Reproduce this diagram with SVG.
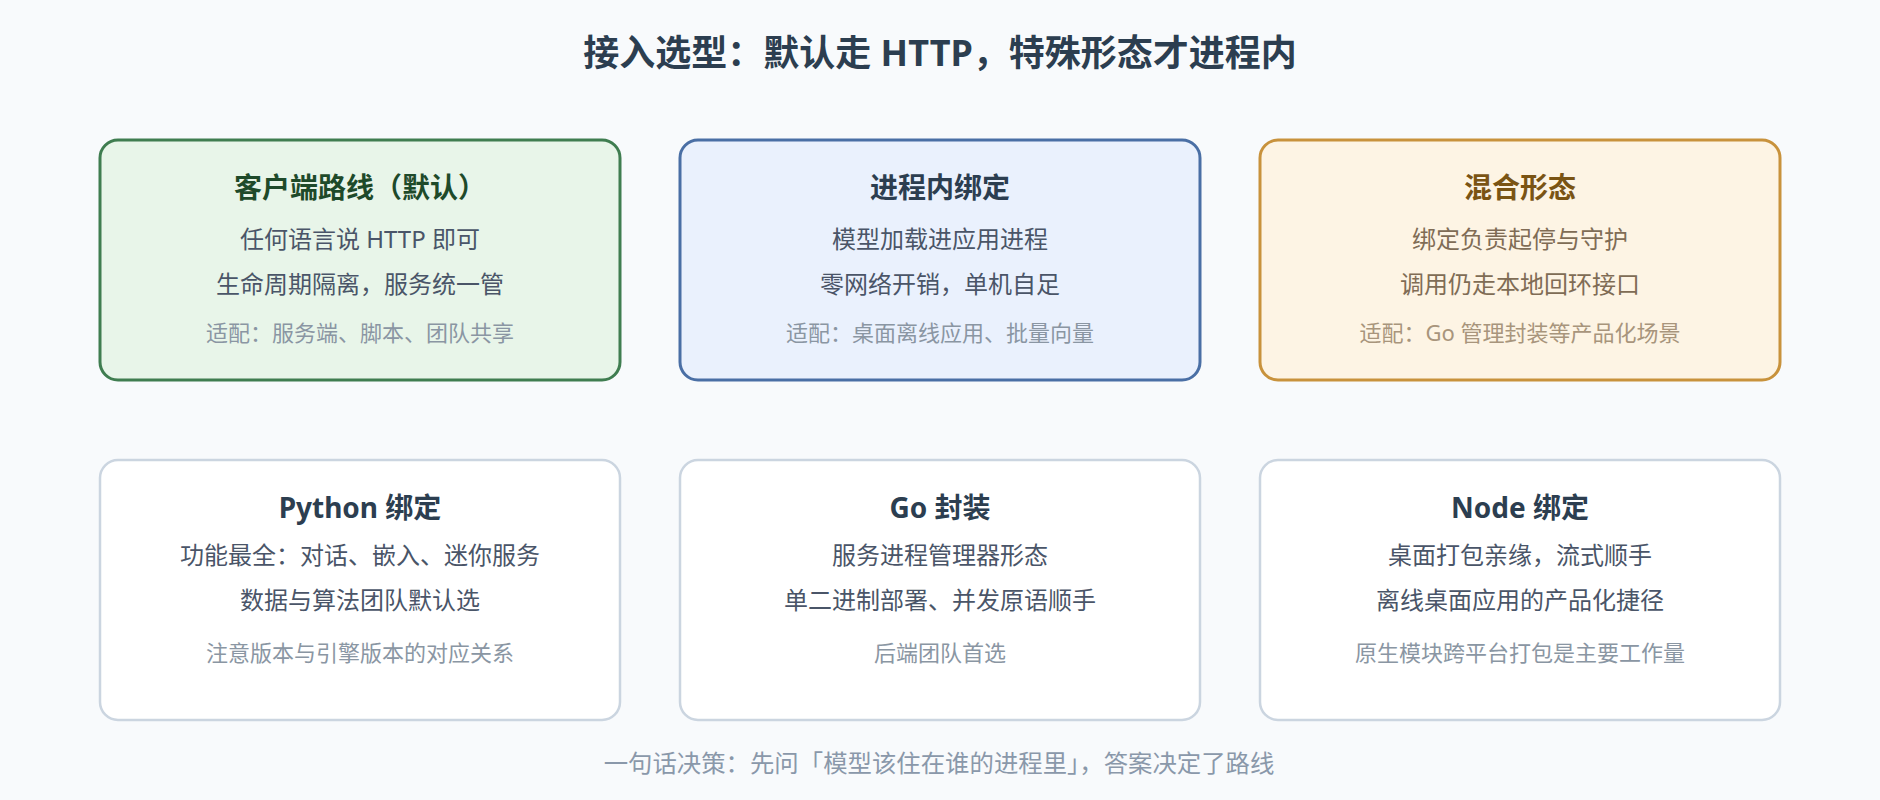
<svg xmlns="http://www.w3.org/2000/svg" width="1880" height="800" viewBox="0 0 1880 800">
<style>
text{font-family:"Noto Sans","Noto Sans CJK SC",sans-serif;text-anchor:middle}
.h{font-size:36px;font-weight:700;fill:#2c3e50}
.t{font-size:28px;font-weight:700;fill:#2c3e50}
.b{font-size:24px;fill:#4a5568}
.s{font-size:22px;fill:#8a96a3}
.f{font-size:24.4px;fill:#8a98aa}
.card{stroke-width:3}
.green{fill:#e8f5e9;stroke:#3f7d50}
.blue{fill:#eaf1fd;stroke:#4a6fa5}
.amber{fill:#fdf4e4;stroke:#c8923c}
.plain{fill:#ffffff;stroke:#cbd5e0;stroke-width:2.5}
</style>
<rect x="0" y="0" width="1880" height="800" fill="#f8fafc"/>
<text class="h" x="940" y="66">接入选型：默认走 HTTP，特殊形态才进程内</text>
<g id="node-client">
<rect class="card green" x="100" y="140" width="520" height="240" rx="18"/>
<text class="t" x="360" y="198" style="fill:#1e4a2a">客户端路线（默认）</text>
<text class="b" x="360" y="248">任何语言说 HTTP 即可</text>
<text class="b" x="360" y="293">生命周期隔离，服务统一管</text>
<text class="s" x="360" y="341">适配：服务端、脚本、团队共享</text>
</g>
<g id="node-inproc">
<rect class="card blue" x="680" y="140" width="520" height="240" rx="18"/>
<text class="t" x="940" y="198">进程内绑定</text>
<text class="b" x="940" y="248">模型加载进应用进程</text>
<text class="b" x="940" y="293">零网络开销，单机自足</text>
<text class="s" x="940" y="341">适配：桌面离线应用、批量向量</text>
</g>
<g id="node-hybrid">
<rect class="card amber" x="1260" y="140" width="520" height="240" rx="18"/>
<text class="t" x="1520" y="198" style="fill:#7a5414">混合形态</text>
<text class="b" x="1520" y="248" style="fill:#806c55">绑定负责起停与守护</text>
<text class="b" x="1520" y="293" style="fill:#806c55">调用仍走本地回环接口</text>
<text class="s" x="1520" y="341" style="fill:#a8957c">适配：Go 管理封装等产品化场景</text>
</g>
<g id="node-python">
<rect class="plain" x="100" y="460" width="520" height="260" rx="18"/>
<text class="t" x="360" y="518">Python 绑定</text>
<text class="b" x="360" y="564">功能最全：对话、嵌入、迷你服务</text>
<text class="b" x="360" y="609">数据与算法团队默认选</text>
<text class="s" x="360" y="661">注意版本与引擎版本的对应关系</text>
</g>
<g id="node-go">
<rect class="plain" x="680" y="460" width="520" height="260" rx="18"/>
<text class="t" x="940" y="518">Go 封装</text>
<text class="b" x="940" y="564">服务进程管理器形态</text>
<text class="b" x="940" y="609">单二进制部署、并发原语顺手</text>
<text class="s" x="940" y="661">后端团队首选</text>
</g>
<g id="node-node">
<rect class="plain" x="1260" y="460" width="520" height="260" rx="18"/>
<text class="t" x="1520" y="518">Node 绑定</text>
<text class="b" x="1520" y="564">桌面打包亲缘，流式顺手</text>
<text class="b" x="1520" y="609">离线桌面应用的产品化捷径</text>
<text class="s" x="1520" y="661">原生模块跨平台打包是主要工作量</text>
</g>
<g id="connectors"></g>
<text class="f" x="939" y="772">一句话决策：先问「模型该住在谁的进程里」，答案决定了路线</text>
</svg>
